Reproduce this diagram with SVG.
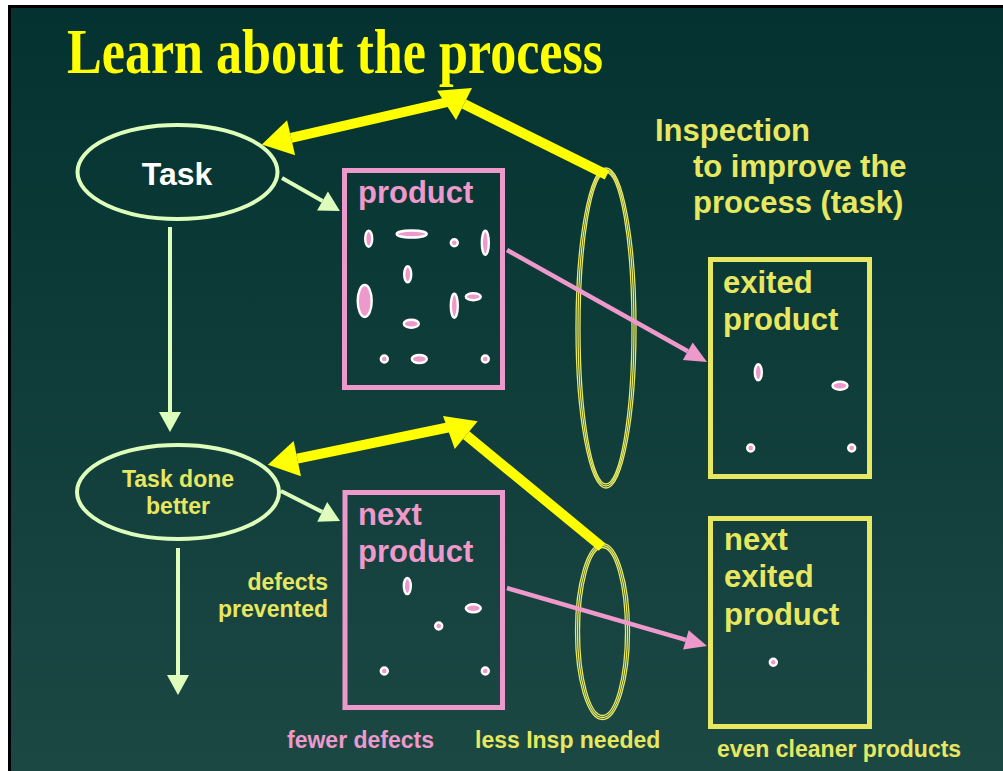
<svg xmlns="http://www.w3.org/2000/svg" width="1003" height="771" viewBox="0 0 1003 771">
<defs>
<linearGradient id="bg" x1="0" y1="0" x2="0" y2="1">
<stop offset="0" stop-color="#033230"/>
<stop offset="1" stop-color="#1c4844"/>
</linearGradient>
<marker id="ahY" markerUnits="userSpaceOnUse" markerWidth="40" markerHeight="40" refX="0" refY="20" orient="auto" overflow="visible">
<path d="M0,2 L30,20 L0,38 Z" fill="#ffff00"/>
</marker>
<marker id="ahG" markerUnits="userSpaceOnUse" markerWidth="24" markerHeight="24" refX="0" refY="12" orient="auto" overflow="visible">
<path d="M0,1 L20,12 L0,23 Z" fill="#ddffbb"/>
</marker>
<marker id="ahP" markerUnits="userSpaceOnUse" markerWidth="26" markerHeight="24" refX="0" refY="12" orient="auto" overflow="visible">
<path d="M0,2 L22,12 L0,22 Z" fill="#ee99cc"/>
</marker>
</defs>
<style>
.sans{font-family:"Liberation Sans",Arial,sans-serif;font-weight:bold}
.big{font-size:31px}
.mid{font-size:23px}
.yt{fill:#e8e860}
.pt{fill:#ee99cc}
.wt{fill:#ffffff}
.pbox{fill:none;stroke:#ee99cc;stroke-width:5}
.ybox{fill:none;stroke:#e8e860;stroke-width:5}
.gell{fill:none;stroke:#ddffbb;stroke-width:4}
.def{fill:#ee99cc;stroke:#ffffff;stroke-width:2.4}
.lens{fill:none;stroke:#e8e860;stroke-width:1.3}
.yarr{stroke:#ffff00;stroke-width:10;fill:none;marker-end:url(#ahY)}
.garr{stroke:#ddffbb;stroke-width:4;fill:none;marker-end:url(#ahG)}
.parr{stroke:#ee99cc;stroke-width:4.5;fill:none;marker-end:url(#ahP)}
</style>
<rect x="0" y="0" width="1003" height="771" fill="#ffffff"/>
<rect x="8" y="5" width="995" height="766" fill="#000000"/>
<rect x="11" y="8" width="992" height="763" fill="url(#bg)"/>

<text x="67" y="73" font-family="'Liberation Serif','Times New Roman',serif" font-weight="bold" font-size="64" fill="#ffff00" textLength="536" lengthAdjust="spacingAndGlyphs">Learn about the process</text>

<g id="task">
<ellipse class="gell" cx="177.5" cy="172" rx="100" ry="47"/>
<text class="sans wt" x="177" y="185" font-size="32" text-anchor="middle">Task</text>
</g>

<g id="task-done-better">
<ellipse class="gell" cx="178" cy="492" rx="101" ry="47"/>
<text class="sans yt mid" x="178" y="487" text-anchor="middle">Task done</text>
<text class="sans yt mid" x="178" y="514" text-anchor="middle">better</text>
</g>

<g id="product">
<rect class="pbox" x="344.5" y="170.5" width="158" height="217"/>
<text class="sans pt big" x="358" y="203">product</text>
<ellipse class="def" cx="368.7" cy="238.7" rx="3.5" ry="8"/>
<ellipse class="def" cx="411.7" cy="234" rx="15" ry="3.5"/>
<ellipse class="def" cx="454.3" cy="242.7" rx="3.5" ry="3.5"/>
<ellipse class="def" cx="485.3" cy="242.7" rx="3.5" ry="12"/>
<ellipse class="def" cx="407.7" cy="274.3" rx="3.5" ry="8"/>
<ellipse class="def" cx="364.7" cy="301" rx="7" ry="16"/>
<ellipse class="def" cx="454.3" cy="305.7" rx="3.5" ry="12"/>
<ellipse class="def" cx="473.3" cy="296.7" rx="7.5" ry="3.5"/>
<ellipse class="def" cx="411.3" cy="323.7" rx="7.5" ry="4"/>
<ellipse class="def" cx="384.3" cy="359" rx="3.5" ry="3.5"/>
<ellipse class="def" cx="419.3" cy="359" rx="7.5" ry="4"/>
<ellipse class="def" cx="485.3" cy="359" rx="3.5" ry="3.5"/>
</g>

<g id="next-product">
<rect class="pbox" x="345" y="492.5" width="157.5" height="215"/>
<text class="sans pt big" x="358" y="525">next</text>
<text class="sans pt big" x="358" y="562">product</text>
<ellipse class="def" cx="407.3" cy="586" rx="3.5" ry="8"/>
<ellipse class="def" cx="473.3" cy="608.3" rx="7.5" ry="4"/>
<ellipse class="def" cx="438.7" cy="626" rx="3.5" ry="3.5"/>
<ellipse class="def" cx="384.3" cy="671" rx="3.5" ry="3.5"/>
<ellipse class="def" cx="485.3" cy="671" rx="3.5" ry="3.5"/>
</g>

<g id="exited-product">
<rect class="ybox" x="710.5" y="259.5" width="159" height="217"/>
<text class="sans yt big" x="723" y="293">exited</text>
<text class="sans yt big" x="723" y="330">product</text>
<ellipse class="def" cx="758.3" cy="372.3" rx="3.5" ry="8"/>
<ellipse class="def" cx="840" cy="385.7" rx="7.5" ry="4"/>
<ellipse class="def" cx="750.7" cy="448" rx="3.5" ry="3.5"/>
<ellipse class="def" cx="851.7" cy="448" rx="3.5" ry="3.5"/>
</g>

<g id="next-exited-product">
<rect class="ybox" x="710.5" y="518.5" width="159" height="208"/>
<text class="sans yt big" x="724" y="550">next</text>
<text class="sans yt big" x="724" y="587">exited</text>
<text class="sans yt big" x="724" y="625">product</text>
<ellipse class="def" cx="773.3" cy="662.3" rx="3.5" ry="3.5"/>
</g>

<g id="inspection-lens-1">
<ellipse class="lens" cx="606" cy="328" rx="30" ry="160"/>
<ellipse class="lens" cx="606" cy="328" rx="28" ry="158"/>
<ellipse class="lens" cx="606" cy="328" rx="26" ry="156"/>
</g>

<g id="inspection-lens-2">
<ellipse class="lens" cx="602.5" cy="631.5" rx="27" ry="88"/>
<ellipse class="lens" cx="602.5" cy="631.5" rx="25" ry="86"/>
<ellipse class="lens" cx="602.5" cy="631.5" rx="23" ry="84"/>
</g>

<g id="labels">
<text class="sans yt big" x="655" y="141">Inspection</text>
<text class="sans yt big" x="693" y="177">to improve the</text>
<text class="sans yt big" x="693" y="213">process (task)</text>
<text class="sans yt mid" x="328" y="590" text-anchor="end">defects</text>
<text class="sans yt mid" x="328" y="617" text-anchor="end">prevented</text>
<text class="sans pt mid" x="287" y="748">fewer defects</text>
<text class="sans yt mid" x="475" y="748">less Insp needed</text>
<text class="sans yt mid" x="717" y="757">even cleaner products</text>
</g>

<g id="connectors">
<line class="garr" x1="282" y1="178" x2="322.5" y2="201"/>
<line class="garr" x1="170" y1="227" x2="170" y2="412"/>
<line class="garr" x1="281" y1="491" x2="322.2" y2="511.9"/>
<line class="garr" x1="178" y1="548" x2="178" y2="675"/>
<line class="parr" x1="507" y1="250" x2="687.8" y2="351.2"/>
<line class="parr" x1="507" y1="588" x2="685.9" y2="639.9"/>
<line class="yarr" x1="607" y1="175" x2="464" y2="104"/>
<line class="yarr" x1="452" y1="101" x2="291.1" y2="137.8"/>
<line class="yarr" x1="602" y1="547" x2="466.2" y2="435.1"/>
<line class="yarr" x1="455" y1="426" x2="297.3" y2="458.6"/>
</g>
</svg>
